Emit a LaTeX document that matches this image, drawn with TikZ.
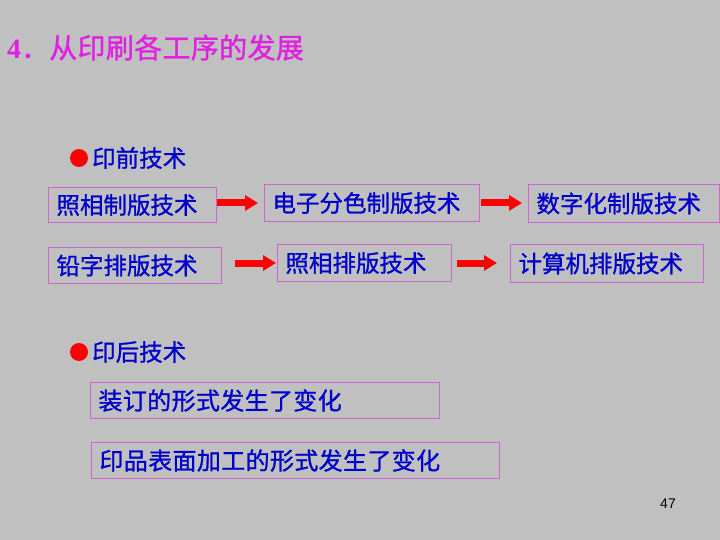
\documentclass[tikz,border=0pt]{standalone}
\usepackage{fontspec}
\setmainfont{Liberation Serif}
\setsansfont{Liberation Sans}
\newfontfamily\cjk[FakeBold=1]{Noto Sans CJK SC}
\newfontfamily\cjkT[LetterSpace=1.2,FakeBold=1]{Noto Sans CJK SC}
\newfontfamily\cjkB[LetterSpace=1.5,FakeBold=1]{Noto Sans CJK SC}
\usetikzlibrary{arrows.meta}
\definecolor{bg}{RGB}{192,192,192}
\definecolor{txt}{RGB}{0,0,204}
\definecolor{ttl}{RGB}{224,32,224}
\definecolor{frm}{RGB}{204,102,204}
\definecolor{arr}{RGB}{255,0,0}
\begin{document}
\begin{tikzpicture}[x=1pt,y=-1pt,
  box/.style={draw=frm, line width=1pt, anchor=north west, inner ysep=0pt,
    inner xsep=8pt, align=left, text=txt},
  topfont/.style={font=\cjk\fontsize{23.5pt}{26pt}\selectfont},
  botfont/.style={font=\cjkB\fontsize{24pt}{26pt}\selectfont},
  arrow/.style={draw=arr, line width=7pt, -{Triangle[length=13pt,width=15pt]}},
  dot/.style={circle, fill=arr, minimum size=18pt, inner sep=0pt},
  lbl/.style={anchor=west, inner sep=0pt, text=txt, font=\cjk\fontsize{23.5pt}{26pt}\selectfont},
  ]
\fill[bg] (0,0) rectangle (720,540);
\useasboundingbox (0,0) rectangle (720,540);

% title
\node[anchor=west, inner sep=0pt, text=ttl] (title) at (7,47.5)
  {\fontsize{28pt}{30pt}\selectfont{\bfseries 4}\cjk ．\cjkT 从印刷各工序的发展};

% pre-press
\node[dot] (d1) at (79,158) {};
\node[lbl] (l1) at (92,158) {印前技术};

\node[box, topfont, text width=152pt, minimum height=35pt] (b1) at (48,187) {照相制版技术};
\node[box, topfont, text width=199pt, minimum height=37pt] (b2) at (264,184) {电子分色制版技术};
\node[box, topfont, text width=175pt, minimum height=38pt] (b3) at (528,184) {数字化制版技术};
\node[box, topfont, text width=157pt, minimum height=36pt] (b4) at (48,247) {铅字排版技术};
\node[box, topfont, text width=158pt, minimum height=37pt] (b5) at (277,244) {照相排版技术};
\node[box, topfont, text width=177pt, minimum height=38pt] (b6) at (510,244) {计算机排版技术};

\draw[arrow, shorten >=6pt] (b1.east |- b2.west) -- (b2.west);
\draw[arrow, shorten <=1pt, shorten >=6pt] (b2.east) -- (b3.west |- b2.east);
\draw[arrow, shorten <=13pt, shorten >=1pt] (b4.east |- b5.west) -- (b5.west);
\draw[arrow, shorten <=5pt, shorten >=13pt] (b5.east) -- (b6.west |- b5.east);

% post-press
\node[dot] (d2) at (79,352) {};
\node[lbl] (l2) at (92,352) {印后技术};

\node[box, botfont, text width=333pt, minimum height=36pt] (b7) at (90,382) {装订的形式发生了变化};
\node[box, botfont, text width=392pt, minimum height=36pt] (b8) at (91,442) {印品表面加工的形式发生了变化};

% page number
\node[inner sep=0pt, font=\sffamily\fontsize{14pt}{16pt}\selectfont] (pg) at (668,504) {47};
\end{tikzpicture}
\end{document}
